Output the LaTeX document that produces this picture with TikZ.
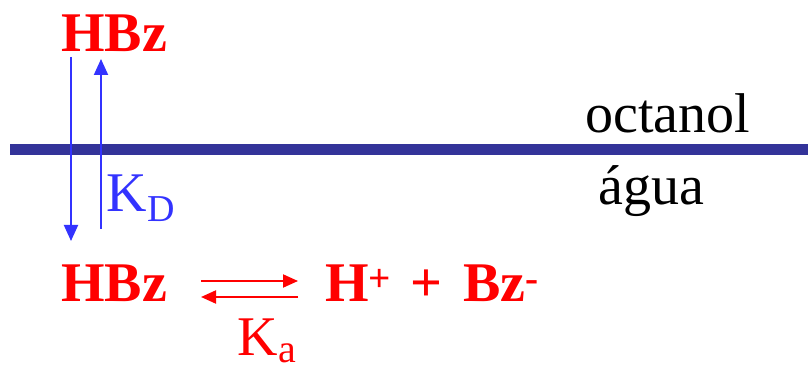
\documentclass[tikz,border=0pt]{standalone}
\usepackage{fontspec}
\setmainfont{Liberation Serif}
\usetikzlibrary{arrows.meta}
\definecolor{chemred}{HTML}{FF0000}
\definecolor{arrblue}{HTML}{3333FF}
\definecolor{barblue}{HTML}{333399}
\tikzset{
  txt/.style={inner sep=0pt, anchor=base west},
  big/.style={txt, font=\fontsize{56}{60}\selectfont},
  chem/.style={big, text=chemred, font=\fontsize{56}{60}\selectfont\bfseries},
  sub/.style={txt, font=\fontsize{38}{40}\selectfont},
  blarrow/.style={draw=arrblue, line width=2pt, -{Triangle[width=14pt,length=16pt]}},
  rdarrow/.style={draw=chemred, line width=2pt, -{Triangle[width=13pt,length=15pt]}},
}
\begin{document}
\begin{tikzpicture}[x=1pt,y=-1pt]
\useasboundingbox (0,0) rectangle (808,371);
% interface
\draw[barblue, line width=11pt] (10,149.5) -- (808,149.5);
% labels
\node[big] (oct) at (585,133) {octanol};
\node[big] (agua) at (598,205) {água};
% species
\node[chem] (hbztop) at (61,52) {HBz};
\node[chem] (hbzbot) at (61,301) {HBz};
\node[chem] (hplus) at (325,301) {H\textsuperscript{+}};
\node[chem] (plus) at (410,301) {+};
\node[chem] (bzm) at (463,301) {Bz\textsuperscript{-}};
% partition arrows
\coordinate (d1) at (71,57);
\coordinate (d2) at (71,241);
\coordinate (u1) at (101,229);
\coordinate (u2) at (101,59);
\draw[blarrow] (d1) -- (d2);
\draw[blarrow] (u1) -- (u2);
\node[big, text=arrblue] (kd) at (106,212) {K};
\node[sub, text=arrblue] (kdsub) at (kd.base east) [yshift=-10pt] {D};
% equilibrium arrows
\coordinate (e1) at (201,281);
\coordinate (e2) at (298,281);
\coordinate (f1) at (298,297);
\coordinate (f2) at (201,297);
\draw[rdarrow] (e1) -- (e2);
\draw[rdarrow] (f1) -- (f2);
\node[big, text=chemred] (ka) at (237,355) {K};
\node[sub, font=\fontsize{40}{42}\selectfont, text=chemred] (kasub) at (ka.base east) [yshift=-7pt] {a};
\end{tikzpicture}
\end{document}
